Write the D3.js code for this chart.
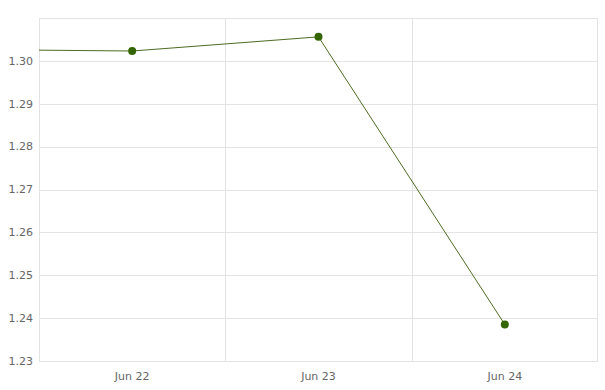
<!DOCTYPE html>
<html>
<head>
<meta charset="utf-8">
<script src="https://cdn.jsdelivr.net/npm/d3@7"></script>
<style>
  body { margin: 0; background: #fff; }
  svg text { font-family: Verdana, "DejaVu Sans", sans-serif; font-size: 11px; fill: #666; }
</style>
</head>
<body>
<svg id="canvas" width="605" height="390"></svg>
<script>
// previous day sits outside the plot, only its line segment shows
var days = ['Jun 21', 'Jun 22', 'Jun 23', 'Jun 24'];
var values = [1.3027, 1.3023, 1.3056, 1.2385];
var shownDays = ['Jun 22', 'Jun 23', 'Jun 24'];
var yTicks = [1.23, 1.24, 1.25, 1.26, 1.27, 1.28, 1.29, 1.30];

var margin = {top: 18, right: 7, bottom: 29, left: 39};
var width = 605 - margin.left - margin.right;
var height = 390 - margin.top - margin.bottom;

var svg = d3.select('#canvas');
var g = svg.append('g').attr('transform', 'translate(' + margin.left + ',' + margin.top + ')');

var x = d3.scaleLinear().domain([0.5, 3.5]).range([0, width]);
var y = d3.scaleLinear().domain([1.23, 1.31]).range([height, 0]);

svg.append('defs').append('clipPath').attr('id', 'clip')
    .append('rect').attr('width', width).attr('height', height);

// horizontal grid
g.selectAll('.hgrid')
    .data(yTicks)
    .join('line')
    .attr('x1', 0).attr('x2', width)
    .attr('y1', d => Math.round(y(d)) + 0.5)
    .attr('y2', d => Math.round(y(d)) + 0.5)
    .attr('stroke', '#e3e3e3');

// vertical grid between days
g.selectAll('.vgrid')
    .data([1.5, 2.5])
    .join('line')
    .attr('x1', d => Math.round(x(d)) + 0.5)
    .attr('x2', d => Math.round(x(d)) + 0.5)
    .attr('y1', 0).attr('y2', height)
    .attr('stroke', '#e3e3e3');

g.append('rect')
    .attr('x', 0.5).attr('y', 0.5)
    .attr('width', width - 1).attr('height', height)
    .attr('fill', 'none')
    .attr('stroke', '#e3e3e3');

// y labels
g.selectAll('.ylab')
    .data(yTicks)
    .join('text')
    .attr('x', -6)
    .attr('y', d => y(d))
    .attr('dy', '0.35em')
    .attr('text-anchor', 'end')
    .text(d => d.toFixed(2));

// x labels
g.selectAll('.xlab')
    .data(shownDays)
    .join('text')
    .attr('x', (d, i) => x(i + 1))
    .attr('y', height + 19)
    .attr('text-anchor', 'middle')
    .text(d => d);

var pts = days.map((d, i) => ({day: d, i: i, v: values[i]}));

var line = d3.line().x(d => x(d.i)).y(d => y(d.v));

g.append('path')
    .datum(pts)
    .attr('clip-path', 'url(#clip)')
    .attr('d', line)
    .attr('fill', 'none')
    .attr('stroke', '#4d6b22')
    .attr('stroke-width', 1);

g.selectAll('.dot')
    .data(pts.filter(d => d.i > 0))
    .join('circle')
    .attr('cx', d => x(d.i))
    .attr('cy', d => y(d.v))
    .attr('r', 4)
    .attr('fill', '#336600');
</script>
</body>
</html>
